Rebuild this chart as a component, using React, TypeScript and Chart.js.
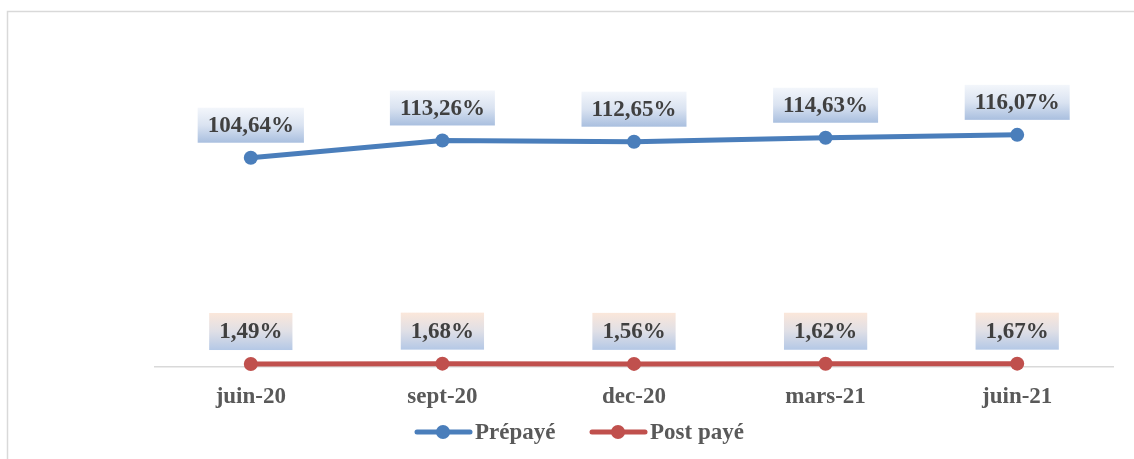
import React, { useEffect, useRef } from "react";
import { Chart, registerables } from "chart.js";

Chart.register(...registerables);

const categories = ["juin-20", "sept-20", "dec-20", "mars-21", "juin-21"];
const prepaye = [104.64, 113.26, 112.65, 114.63, 116.07];
const postPaye = [1.49, 1.68, 1.56, 1.62, 1.67];
const seriesNames = ["Prépayé", "Post payé"];

const BLUE = "#4a7ebb";
const RED = "#c0504d";
const FONT = "'Liberation Serif', 'Times New Roman', serif";

const fmt = (v: number) => v.toFixed(2).replace(".", ",") + "%";

const framePlugin = {
  id: "frame",
  beforeDraw(chart: any) {
    const ctx = chart.ctx;
    ctx.save();
    ctx.strokeStyle = "#d9d9d9";
    ctx.lineWidth = 1.5;
    ctx.beginPath();
    ctx.moveTo(7.5, chart.height + 5);
    ctx.lineTo(7.5, 11.5);
    ctx.lineTo(chart.width + 5, 11.5);
    ctx.stroke();
    ctx.restore();
  },
};

const labelPlugin = {
  id: "boxLabels",
  afterDatasetsDraw(chart: any) {
    const ctx = chart.ctx;
    ctx.save();
    ctx.font = `bold 23px ${FONT}`;
    ctx.textAlign = "center";
    ctx.textBaseline = "middle";
    chart.data.datasets.forEach((ds: any, di: number) => {
      const meta = chart.getDatasetMeta(di);
      meta.data.forEach((pt: any, i: number) => {
        const txt = fmt(ds.data[i]);
        const w = ctx.measureText(txt).width + 20;
        const h = di === 0 ? 35 : 37;
        const gap = di === 0 ? 15 : 14;
        const x0 = pt.x - w / 2;
        const y1 = pt.y - gap;
        const y0 = y1 - h;
        const g = ctx.createLinearGradient(0, y0, 0, y1);
        if (di === 0) {
          g.addColorStop(0, "#f3f6fb");
          g.addColorStop(0.5, "#dae3f1");
          g.addColorStop(1, "#a9bfdf");
        } else {
          g.addColorStop(0, "#fbe7da");
          g.addColorStop(0.5, "#dfdfe6");
          g.addColorStop(1, "#b4c8e6");
        }
        ctx.fillStyle = g;
        ctx.fillRect(x0, y0, w, h);
        ctx.fillStyle = "#404040";
        ctx.fillText(txt, pt.x, (y0 + y1) / 2 + 1);
      });
    });
    ctx.restore();
  },
};

const legendPlugin = {
  id: "customLegend",
  afterDraw(chart: any) {
    const ctx = chart.ctx;
    ctx.save();
    ctx.font = `bold 23px ${FONT}`;
    ctx.textBaseline = "middle";
    ctx.textAlign = "left";
    const items = [
      { x: 415, color: BLUE },
      { x: 590, color: RED },
    ];
    const y = 432;
    items.forEach((it, i) => {
      ctx.strokeStyle = it.color;
      ctx.lineWidth = 5;
      ctx.lineCap = "round";
      ctx.beginPath();
      ctx.moveTo(it.x + 2, y);
      ctx.lineTo(it.x + 55, y);
      ctx.stroke();
      ctx.fillStyle = it.color;
      ctx.beginPath();
      ctx.arc(it.x + 28, y, 7, 0, Math.PI * 2);
      ctx.fill();
      ctx.fillStyle = "#595959";
      ctx.fillText(seriesNames[i], it.x + 60, y + 1);
    });
    ctx.restore();
  },
};

export default function App() {
  const ref = useRef<HTMLCanvasElement>(null);
  useEffect(() => {
    if (!ref.current) return;
    const chart = new Chart(ref.current, {
      type: "line",
      data: {
        labels: categories,
        datasets: [
          {
            label: seriesNames[0],
            data: prepaye,
            borderColor: BLUE,
            backgroundColor: BLUE,
            borderWidth: 5,
            pointRadius: 7,
            pointBackgroundColor: BLUE,
            pointBorderWidth: 0,
            tension: 0,
          },
          {
            label: seriesNames[1],
            data: postPaye,
            borderColor: RED,
            backgroundColor: RED,
            borderWidth: 5,
            pointRadius: 7,
            pointBackgroundColor: RED,
            pointBorderWidth: 0,
            tension: 0,
          },
        ],
      },
      options: {
        responsive: false,
        animation: false,
        clip: false as any,
        layout: { padding: { left: 155, right: 21, top: 67, bottom: 0 } },
        plugins: {
          legend: { display: false },
          tooltip: { enabled: false },
        },
        scales: {
          x: {
            offset: true,
            grid: { display: false, drawTicks: false },
            border: { display: true, color: "#d9d9d9", width: 1.5 },
            ticks: {
              font: { family: FONT, size: 23, weight: "bold" },
              color: "#595959",
              padding: 16,
            },
            afterFit(scale: any) {
              scale.height = 92;
            },
          },
          y: {
            display: false,
            min: 0,
            max: 150,
          },
        },
      },
      plugins: [framePlugin, labelPlugin, legendPlugin],
    });
    return () => chart.destroy();
  }, []);
  return (
    <div style={{ position: "fixed", left: 0, top: 0, width: 1134, height: 459, background: "#fff" }}>
      <canvas ref={ref} width={1134} height={459} style={{ display: "block" }} />
    </div>
  );
}
